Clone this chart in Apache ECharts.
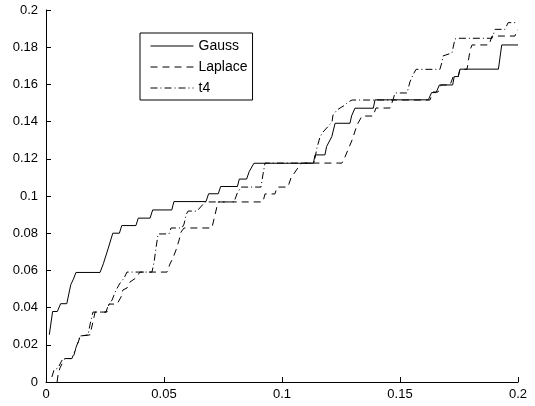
<!DOCTYPE html>
<html>
<head>
<meta charset="utf-8">
<script src="https://cdn.jsdelivr.net/npm/echarts@6/dist/echarts.min.js"></script>
<style>
    html, body { margin: 0; padding: 0; background: #fff; }
    #myChart { width: 535px; height: 406px; }
</style>
</head>
<body>
<div id="myChart"></div>
<script>
// series names
const seriesNames = ['Gauss', 'Laplace', 't4']

// tick labels
const xTickLabels = ['0', '0.05', '0.1', '0.15', '0.2']
const yTickLabels = ['0', '0.02', '0.04', '0.06', '0.08', '0.1', '0.12', '0.14', '0.16', '0.18', '0.2']

// [x, y] points
const gaussData = [
    [0.0014, 0.0254], [0.0028, 0.0379], [0.0048, 0.0379], [0.0062, 0.0421], [0.0088, 0.0421],
    [0.0105, 0.0523], [0.0116, 0.0553], [0.0127, 0.0589], [0.0229, 0.0589], [0.0243, 0.0636],
    [0.0250, 0.0636], [0.0264, 0.0720], [0.0283, 0.0800], [0.0311, 0.0800], [0.0321, 0.0841],
    [0.0381, 0.0841], [0.0391, 0.0881], [0.0441, 0.0881], [0.0452, 0.0925], [0.0533, 0.0925],
    [0.0542, 0.0970], [0.0678, 0.0970], [0.0689, 0.1012], [0.0730, 0.1012], [0.0740, 0.1051],
    [0.0811, 0.1051], [0.0819, 0.1091], [0.0850, 0.1091], [0.0861, 0.1131], [0.0881, 0.1176],
    [0.1133, 0.1176], [0.1140, 0.1221], [0.1182, 0.1221], [0.1189, 0.1266], [0.1211, 0.1319],
    [0.1225, 0.1391], [0.1288, 0.1391], [0.1295, 0.1431], [0.1309, 0.1472], [0.1387, 0.1472],
    [0.1394, 0.1517], [0.1620, 0.1517], [0.1634, 0.1556], [0.1653, 0.1556], [0.1667, 0.1597],
    [0.1723, 0.1597], [0.1730, 0.1642], [0.1747, 0.1642], [0.1754, 0.1682], [0.1917, 0.1682],
    [0.1931, 0.1812], [0.2000, 0.1812]
]
const laplaceData = [
    [0.0047, 0.0000], [0.0051, 0.0038], [0.0059, 0.0075], [0.0072, 0.0108], [0.0081, 0.0126],
    [0.0114, 0.0126], [0.0127, 0.0183], [0.0140, 0.0226], [0.0144, 0.0247], [0.0186, 0.0253],
    [0.0199, 0.0323], [0.0208, 0.0376], [0.0258, 0.0376], [0.0267, 0.0419], [0.0301, 0.0419],
    [0.0318, 0.0457], [0.0326, 0.0495], [0.0343, 0.0505], [0.0356, 0.0538], [0.0381, 0.0559],
    [0.0398, 0.0591], [0.0513, 0.0591], [0.0525, 0.0634], [0.0538, 0.0667], [0.0551, 0.0710],
    [0.0564, 0.0763], [0.0572, 0.0806], [0.0585, 0.0828], [0.0703, 0.0828], [0.0716, 0.0898],
    [0.0729, 0.0968], [0.0919, 0.0968], [0.0928, 0.1011], [0.0970, 0.1011], [0.0979, 0.1048],
    [0.1025, 0.1048], [0.1038, 0.1097], [0.1076, 0.1167], [0.1085, 0.1177], [0.1254, 0.1177],
    [0.1267, 0.1210], [0.1297, 0.1301], [0.1318, 0.1382], [0.1339, 0.1430], [0.1386, 0.1430],
    [0.1398, 0.1473], [0.1458, 0.1473], [0.1470, 0.1516], [0.1627, 0.1516], [0.1640, 0.1559],
    [0.1661, 0.1559], [0.1674, 0.1597], [0.1712, 0.1597], [0.1725, 0.1640], [0.1746, 0.1640],
    [0.1754, 0.1681], [0.1784, 0.1681], [0.1797, 0.1785], [0.1805, 0.1812], [0.1877, 0.1812],
    [0.1890, 0.1860], [0.1987, 0.1860], [0.1996, 0.1892], [0.2000, 0.1892]
]
const t4Data = [
    [0.0025, 0.0027], [0.0034, 0.0065], [0.0051, 0.0075], [0.0064, 0.0108], [0.0072, 0.0126],
    [0.0110, 0.0126], [0.0123, 0.0172], [0.0136, 0.0215], [0.0144, 0.0247], [0.0178, 0.0253],
    [0.0186, 0.0306], [0.0199, 0.0376], [0.0254, 0.0376], [0.0263, 0.0409], [0.0280, 0.0441],
    [0.0297, 0.0495], [0.0314, 0.0532], [0.0331, 0.0559], [0.0343, 0.0591], [0.0449, 0.0591],
    [0.0458, 0.0645], [0.0466, 0.0720], [0.0475, 0.0796], [0.0521, 0.0796], [0.0530, 0.0828],
    [0.0576, 0.0828], [0.0585, 0.0849], [0.0593, 0.0898], [0.0602, 0.0919], [0.0640, 0.0919],
    [0.0674, 0.0968], [0.0797, 0.0968], [0.0809, 0.1011], [0.0826, 0.1048], [0.0911, 0.1048],
    [0.0919, 0.1113], [0.0928, 0.1177], [0.1136, 0.1177], [0.1148, 0.1258], [0.1161, 0.1317],
    [0.1174, 0.1344], [0.1212, 0.1398], [0.1216, 0.1435], [0.1233, 0.1462], [0.1246, 0.1473],
    [0.1267, 0.1489], [0.1280, 0.1505], [0.1297, 0.1516], [0.1470, 0.1516], [0.1479, 0.1554],
    [0.1530, 0.1554], [0.1542, 0.1613], [0.1555, 0.1651], [0.1568, 0.1681], [0.1669, 0.1681],
    [0.1678, 0.1720], [0.1682, 0.1753], [0.1720, 0.1769], [0.1733, 0.1844], [0.1742, 0.1848],
    [0.1890, 0.1848], [0.1903, 0.1896], [0.1945, 0.1896], [0.1958, 0.1932], [0.2000, 0.1932]
]

const font = 'Liberation Sans, Arial, Helvetica, sans-serif'

const option = {
    animation: false,
    backgroundColor: '#fff',
    grid: {
        left: 46,
        right: 17,
        top: 10,
        bottom: 24
    },
    legend: {
        orient: 'vertical',
        left: 140,
        top: 33,
        padding: [6, 5, 5, 10],
        itemWidth: 43,
        itemHeight: 14,
        itemGap: 7,
        borderColor: '#000',
        borderWidth: 1,
        borderRadius: 0,
        // hide the marker, keep only the line sample
        itemStyle: {
            color: 'rgba(0,0,0,0)',
            borderWidth: 0,
            opacity: 0
        },
        lineStyle: {
            width: 1
        },
        textStyle: {
            color: '#000',
            fontFamily: font,
            fontSize: 14
        },
        data: seriesNames
    },
    xAxis: {
        type: 'value',
        min: 0,
        max: 0.2,
        interval: 0.05,
        axisLine: { lineStyle: { color: '#000', width: 1 } },
        axisTick: { inside: true, length: 5, lineStyle: { color: '#000' } },
        splitLine: { show: false },
        axisLabel: {
            color: '#000',
            fontFamily: font,
            fontSize: 13,
            margin: 6,
            formatter: function (v) {
                return xTickLabels[Math.round(v / 0.05)]
            }
        }
    },
    yAxis: {
        type: 'value',
        min: 0,
        max: 0.2,
        interval: 0.02,
        axisLine: { show: true, lineStyle: { color: '#000', width: 1 } },
        axisTick: { show: true, inside: true, length: 5, lineStyle: { color: '#000' } },
        splitLine: { show: false },
        axisLabel: {
            color: '#000',
            fontFamily: font,
            fontSize: 13,
            margin: 8,
            formatter: function (v) {
                return yTickLabels[Math.round(v / 0.02)]
            }
        }
    },
    series: [
        {
            name: seriesNames[0],
            type: 'line',
            data: gaussData,
            symbol: 'none',
            lineStyle: { color: '#000', width: 1, type: 'solid' },
            itemStyle: { color: '#000' }
        },
        {
            name: seriesNames[1],
            type: 'line',
            data: laplaceData,
            symbol: 'none',
            lineStyle: { color: '#000', width: 1, type: [7, 5] },
            itemStyle: { color: '#000' }
        },
        {
            name: seriesNames[2],
            type: 'line',
            data: t4Data,
            symbol: 'none',
            lineStyle: { color: '#000', width: 1, type: [7, 3, 1, 3] },
            itemStyle: { color: '#000' }
        }
    ]
}

const chart = echarts.init(document.getElementById('myChart'))
chart.setOption(option)
</script>
</body>
</html>
